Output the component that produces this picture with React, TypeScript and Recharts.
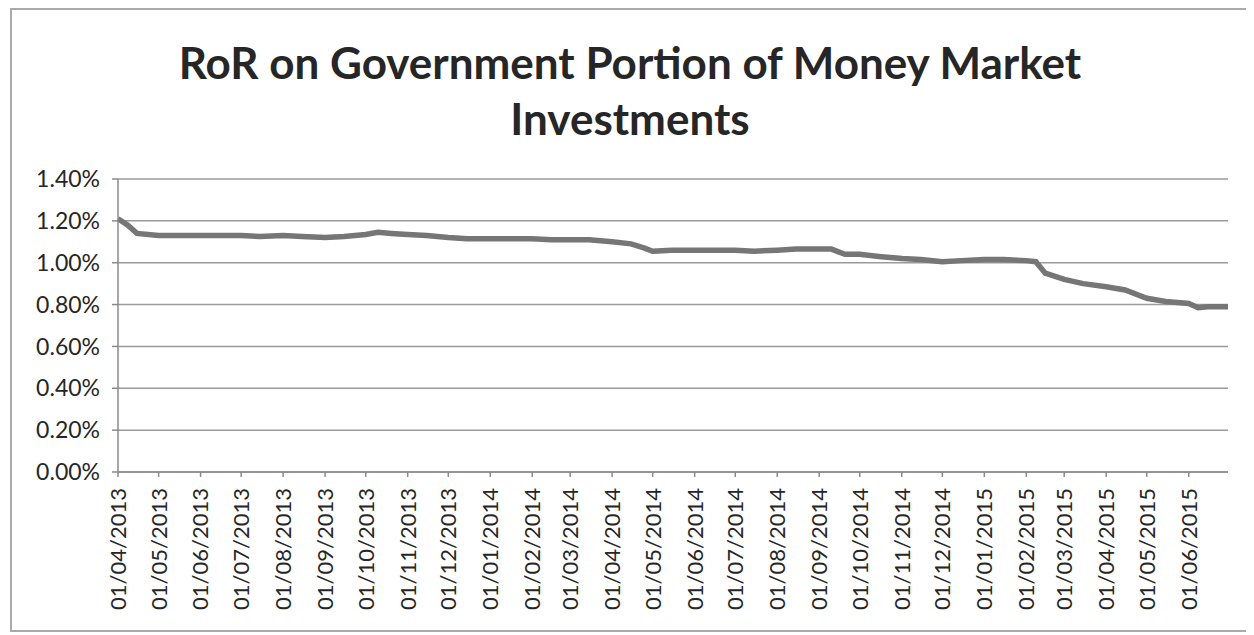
import React from 'react';
import { LineChart, Line, XAxis, YAxis, CartesianGrid } from 'recharts';

const dates = [
  '2013-04-01', '2013-04-08', '2013-04-15', '2013-05-01', '2013-05-15', '2013-06-01', '2013-06-15',
  '2013-07-01', '2013-07-15', '2013-08-01', '2013-08-15', '2013-09-01', '2013-09-15', '2013-10-01',
  '2013-10-10', '2013-10-20', '2013-11-01', '2013-11-15', '2013-12-01', '2013-12-15', '2014-01-01',
  '2014-01-15', '2014-02-01', '2014-02-15', '2014-03-01', '2014-03-15', '2014-04-01', '2014-04-15',
  '2014-04-25', '2014-05-01', '2014-05-15', '2014-06-01', '2014-06-15', '2014-07-01', '2014-07-15',
  '2014-08-01', '2014-08-15', '2014-09-01', '2014-09-10', '2014-09-20', '2014-10-01', '2014-10-15',
  '2014-11-01', '2014-11-15', '2014-12-01', '2014-12-15', '2015-01-01', '2015-01-15', '2015-02-01',
  '2015-02-08', '2015-02-15', '2015-03-01', '2015-03-15', '2015-04-01', '2015-04-15', '2015-05-01',
  '2015-05-15', '2015-06-01', '2015-06-08', '2015-06-15', '2015-06-30',
];

// rate of return, percent
const ror = [
  1.21, 1.18, 1.14, 1.13, 1.13, 1.13, 1.13,
  1.13, 1.125, 1.13, 1.125, 1.12, 1.125, 1.135,
  1.145, 1.14, 1.135, 1.13, 1.12, 1.115, 1.115,
  1.115, 1.115, 1.11, 1.11, 1.11, 1.1, 1.09,
  1.07, 1.055, 1.06, 1.06, 1.06, 1.06, 1.055,
  1.06, 1.065, 1.065, 1.065, 1.04, 1.04, 1.03,
  1.02, 1.015, 1.005, 1.01, 1.015, 1.015, 1.01,
  1.005, 0.95, 0.92, 0.9, 0.885, 0.87, 0.83,
  0.815, 0.805, 0.785, 0.79, 0.79,
];

const monthTicks = [
  '2013-04-01', '2013-05-01', '2013-06-01', '2013-07-01', '2013-08-01', '2013-09-01', '2013-10-01',
  '2013-11-01', '2013-12-01', '2014-01-01', '2014-02-01', '2014-03-01', '2014-04-01', '2014-05-01',
  '2014-06-01', '2014-07-01', '2014-08-01', '2014-09-01', '2014-10-01', '2014-11-01', '2014-12-01',
  '2015-01-01', '2015-02-01', '2015-03-01', '2015-04-01', '2015-05-01', '2015-06-01',
];

const yTicks = [0, 0.2, 0.4, 0.6, 0.8, 1.0, 1.2, 1.4];

const toTime = (s: string) => {
  const [y, m, d] = s.split('-').map(Number);
  return Date.UTC(y, m - 1, d);
};

const data = dates.map((d, i) => ({ t: toTime(d), v: ror[i] }));
const xTicks = monthTicks.map(toTime);

const fmtDate = (t: number) => {
  const d = new Date(t);
  const dd = String(d.getUTCDate()).padStart(2, '0');
  const mm = String(d.getUTCMonth() + 1).padStart(2, '0');
  return `${dd}/${mm}/${d.getUTCFullYear()}`;
};

const FONT = 'Lato, "Open Sans", sans-serif';
const TEXT = '#262626';

const DateTick = (props: any) => {
  const { x, y, payload } = props;
  return (
    <g transform={`translate(${x},${y})`}>
      <text transform="rotate(-90)" textAnchor="end" dy="0.36em" fill={TEXT} fontSize={22} fontFamily={FONT}>
        {fmtDate(payload.value)}
      </text>
    </g>
  );
};

export default function App() {
  return (
    <div style={{ position: 'relative', width: 1236, height: 620, border: '2px solid #aaa', marginLeft: 2, fontFamily: FONT }}>
      <div
        style={{
          position: 'absolute',
          left: 0,
          right: 0,
          top: 24,
          textAlign: 'center',
          fontWeight: 700,
          fontSize: 44,
          lineHeight: '56px',
          color: TEXT,
        }}
      >
        RoR on Government Portion of Money Market
        <br />
        Investments
      </div>
      <LineChart width={1236} height={620} data={data} margin={{ top: 169, right: 20, bottom: 8, left: 0 }}>
        <CartesianGrid horizontal vertical={false} stroke="#9a9a9a" strokeWidth={1.5} />
        <XAxis
          dataKey="t"
          type="number"
          scale="time"
          domain={[xTicks[0], toTime('2015-06-30')]}
          ticks={xTicks}
          interval={0}
          height={150}
          tick={<DateTick />}
          tickSize={5}
          tickMargin={11}
          stroke="#8a8a8a"
          strokeWidth={1.5}
        />
        <YAxis
          domain={[0, 1.4]}
          ticks={yTicks}
          width={106}
          tickFormatter={(v: number) => `${v.toFixed(2)}%`}
          tick={{ fill: TEXT, fontSize: 23, fontFamily: FONT }}
          tickSize={6}
          tickMargin={12}
          stroke="#8a8a8a"
          strokeWidth={1.5}
        />
        <Line
          type="linear"
          dataKey="v"
          stroke="#767676"
          strokeWidth={5.5}
          dot={false}
          isAnimationActive={false}
        />
      </LineChart>
    </div>
  );
}
